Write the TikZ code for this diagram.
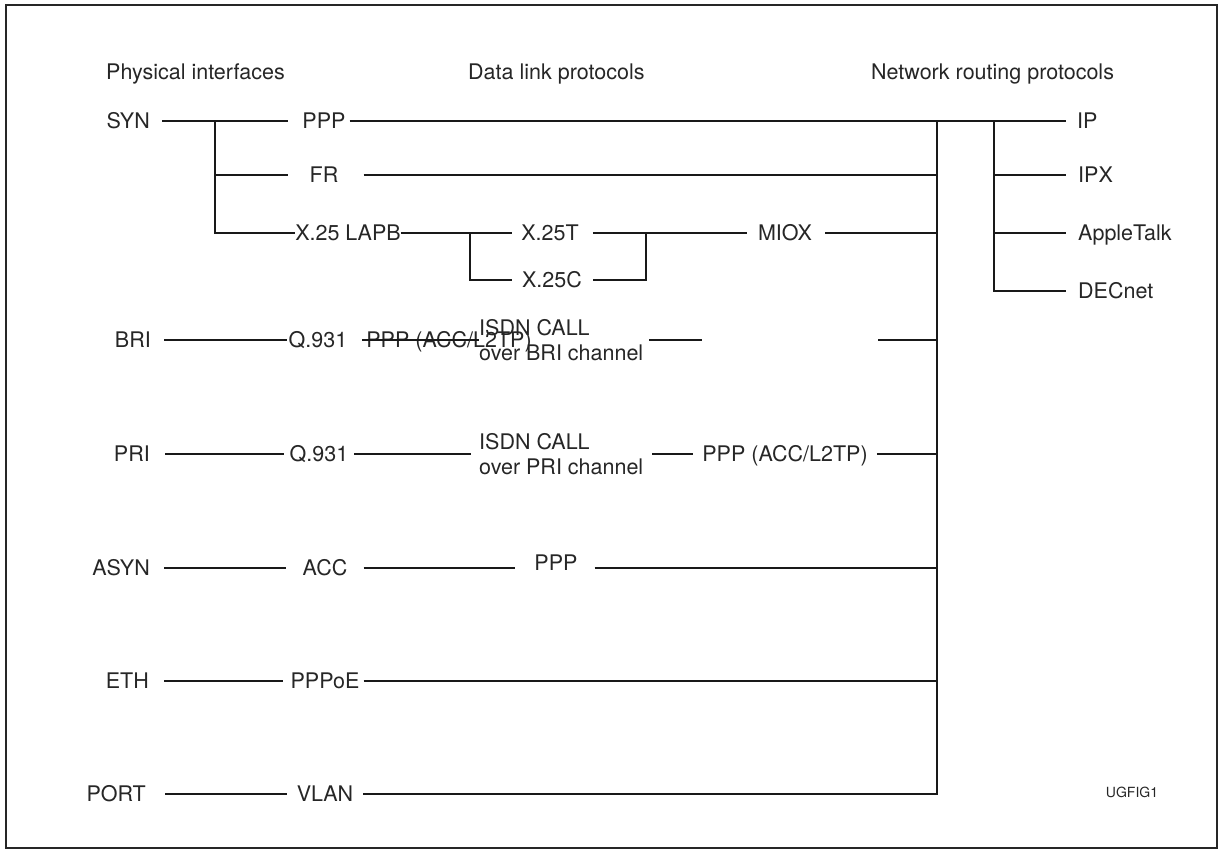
\documentclass[tikz,border=0pt]{standalone}
\usepackage{fontspec}
\setmainfont{TeX Gyre Heros}
\usetikzlibrary{calc}
\tikzset{
  lbl/.style={font=\fontsize{21.5}{25}\selectfont, text=black!85, inner xsep=0pt, inner ysep=0pt, text height=15.4pt, text depth=0pt},
  iface/.style={lbl, anchor=east},
  proto/.style={lbl, anchor=west},
  call/.style={font=\fontsize{21.5}{25}\selectfont, text=black!85, inner sep=0pt, align=left, anchor=west},
  wire/.style={line width=2.2pt, black!90},
}
\begin{document}
\begin{tikzpicture}[x=1pt, y=-1pt]
	\useasboundingbox (0,0) rectangle (1226,851);
	\draw[line width=2pt, black!85] (6,5) rectangle (1217,848);

	% column headings
	\node[proto] (hphys) at (106,72) {Physical interfaces};
	\node[proto] (hdata) at (468,72) {Data link protocols};
	\node[proto] (hnet) at (871,72) {Network routing protocols};

	% physical interfaces
	\node[iface] (syn) at (150,121) {SYN};
	\node[iface] (bri) at (151,340) {BRI};
	\node[iface] (pri) at (150,454) {PRI};
	\node[iface] (asyn) at (150,568) {ASYN};
	\node[iface] (eth) at (149,681) {ETH};
	\node[iface] (port) at (146,794) {PORT};

	% data link protocols
	\node[lbl] (ppp) at (324,121) {PPP};
	\node[lbl] (fr) at (324,175) {FR};
	\node[lbl] (lapb) at (348,233) {X.25 LAPB};
	\node[lbl] (xt) at (550,233) {X.25T};
	\node[lbl] (xc) at (552,280) {X.25C};
	\node[lbl] (miox) at (785,233) {MIOX};
	\node[lbl] (qbri) at (318,340) {Q.931};
	\node[lbl] (pppbri) at (449,340) {PPP (ACC/L2TP)};
	\node[call] (isdnbri) at (479,340) {ISDN CALL\\over BRI channel};
	\node[lbl] (qpri) at (319,454) {Q.931};
	\node[call] (isdnpri) at (479,454) {ISDN CALL\\over PRI channel};
	\node[lbl] (ppppri) at (785,454) {PPP (ACC/L2TP)};
	\node[lbl] (acc) at (325,568) {ACC};
	\node[lbl, text depth=10pt] (pppasyn) at (556,568) {PPP};
	\node[lbl] (pppoe) at (325,681) {PPPoE};
	\node[lbl] (vlan) at (325,794) {VLAN};

	% network routing protocols
	\node[proto] (ip) at (1077,121) {IP};
	\node[proto] (ipx) at (1078,175) {IPX};
	\node[proto] (atalk) at (1078,233) {AppleTalk};
	\node[proto] (decnet) at (1078,291) {DECnet};

	\node[font=\fontsize{14}{16}\selectfont, text=black!85, inner sep=0pt] (fig) at (1132,792) {UGFIG1};

	\coordinate (jsyn) at (215,121);
	\coordinate (jx) at (470,233);
	\coordinate (jm) at (646,233);
	\coordinate (bus) at (937,121);
	\coordinate (jnet) at (994,121);
	\coordinate (bria) at (702,340);
	\coordinate (brib) at (878,340);

	% SYN
	\draw[wire, shorten <=12pt, shorten >=14pt] (syn) -- (jsyn) -- (ppp);
	\draw[wire, shorten >=21pt] (jsyn) |- (fr);
	\draw[wire] (jsyn) |- (lapb);
	\draw[wire, shorten <=4pt, shorten >=11pt] (ppp) -- (ip);
	\draw[wire, shorten <=25pt] (fr) -- (fr -| bus);
	\draw[wire, shorten >=9pt] (lapb) -- (jx) -- (xt);
	\draw[wire, shorten >=10pt] (jx) |- (xc);
	\draw[wire, shorten <=14pt, shorten >=11pt] (xt) -- (jm) -- (miox);
	\draw[wire, shorten <=11pt] (xc) -| (jm);
	\draw[wire, shorten <=13pt] (miox) -- (miox -| bus);
	\draw[wire, shorten >=12pt] (jnet) |- (ipx);
	\draw[wire, shorten >=12pt] (jnet) |- (atalk);
	\draw[wire, shorten >=12pt] (jnet) |- (decnet);

	% BRI
	\draw[wire, shorten <=13pt, shorten >=2pt] (bri) -- (qbri);
	\draw[wire, shorten <=15pt] (qbri) -- (isdnbri);
	\draw[wire, shorten <=6pt] (isdnbri) -- (bria);
	\draw[wire] (brib) -- (brib -| bus);

	% PRI
	\draw[wire, shorten <=15pt, shorten >=6pt] (pri) -- (qpri);
	\draw[wire, shorten <=6pt, shorten >=8pt] (qpri) -- (isdnpri);
	\draw[wire, shorten <=9pt, shorten >=9pt] (isdnpri) -- (ppppri);
	\draw[wire, shorten <=9pt] (ppppri) -- (ppppri -| bus);

	% ASYN, ETH, PORT
	\draw[wire, shorten <=14pt, shorten >=16pt] (asyn) -- (acc);
	\draw[wire, shorten <=16pt, shorten >=19pt] (acc) -- (pppasyn);
	\draw[wire, shorten <=17pt] (pppasyn) -- (pppasyn -| bus);
	\draw[wire, shorten <=15pt, shorten >=7pt] (eth) -- (pppoe);
	\draw[wire, shorten <=4pt] (pppoe) -- (pppoe -| bus);
	\draw[wire, shorten <=19pt, shorten >=10pt] (port) -- (vlan);
	\draw[wire, shorten <=10pt] (vlan) -| (bus);
\end{tikzpicture}
\end{document}
